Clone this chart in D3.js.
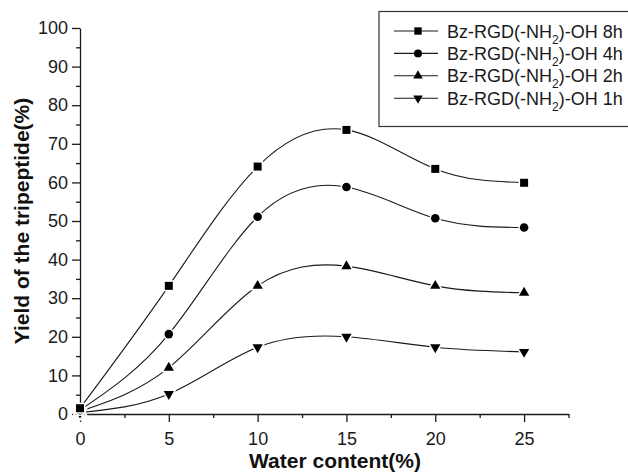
<!DOCTYPE html>
<html>
<head>
<meta charset="utf-8">
<script src="https://cdn.jsdelivr.net/npm/d3@7"></script>
<style>
  body { margin: 0; background: #fff; }
  svg { display: block; font-family: "Liberation Sans", Arial, sans-serif; }
  .tick text { font-size: 18px; fill: #1a1a1a; }
  .axis path, .axis line { stroke: #1a1a1a; stroke-width: 1.3; }
  .axis-title { font-size: 21px; font-weight: bold; fill: #111; }
</style>
</head>
<body>
<div id="chart"></div>
<script>
// water content (%)
const waterContent = [0, 5, 10, 15, 20, 25];

// yield of the tripeptide (%) per reaction time
const yield8h = [1.5, 33.2, 64.1, 73.6, 63.5, 59.9];
const yield4h = [1.0, 20.7, 51.1, 58.8, 50.7, 48.3];
const yield2h = [0.7, 12.0, 33.2, 38.3, 33.2, 31.4];
const yield1h = [0.4, 5.2, 17.3, 20.0, 17.3, 16.1];

const seriesNames = ['8h', '4h', '2h', '1h'];
const seriesValues = [yield8h, yield4h, yield2h, yield1h];

const xMajor = [0, 5, 10, 15, 20, 25];
const xMinor = [2.5, 7.5, 12.5, 17.5, 22.5, 27.5];
const yMajor = [0, 10, 20, 30, 40, 50, 60, 70, 80, 90, 100];
const yMinor = [5, 15, 25, 35, 45, 55, 65, 75, 85, 95];

const width = 628, height = 474;
const margin = { top: 28, right: 60, bottom: 60, left: 80 };

const svg = d3.select('#chart').append('svg')
    .attr('width', width)
    .attr('height', height);

const xScale = d3.scaleLinear().domain([0, 27.5]).range([margin.left, 568.5]);
const yScale = d3.scaleLinear().domain([0, 100]).range([414, margin.top]);

// marker shapes, one per series
const symbols = [
    { type: d3.symbolSquare, size: 64, rotate: 0 },
    { type: d3.symbolCircle, size: 58, rotate: 0 },
    { type: d3.symbolTriangle, size: 46, rotate: 0 },
    { type: d3.symbolTriangle, size: 46, rotate: 180 }
];

// axes: major ticks with labels, minor ticks without
svg.append('g')
    .attr('class', 'axis')
    .attr('transform', 'translate(0,414)')
    .call(d3.axisBottom(xScale).tickValues(xMajor).tickSize(8).tickSizeOuter(0).tickPadding(10).tickFormat(d3.format('d')));
svg.append('g')
    .attr('class', 'axis')
    .attr('transform', 'translate(0,414)')
    .call(d3.axisBottom(xScale).tickValues(xMinor).tickSize(4).tickSizeOuter(0).tickFormat(''))
    .call(g => g.select('.domain').remove());

svg.append('g')
    .attr('class', 'axis')
    .attr('transform', `translate(${margin.left},0)`)
    .call(d3.axisLeft(yScale).tickValues(yMajor).tickSize(8).tickSizeOuter(0).tickPadding(4).tickFormat(d3.format('d')));
svg.append('g')
    .attr('class', 'axis')
    .attr('transform', `translate(${margin.left},0)`)
    .call(d3.axisLeft(yScale).tickValues(yMinor).tickSize(4).tickSizeOuter(0).tickFormat(''))
    .call(g => g.select('.domain').remove());

// axis titles
svg.append('text')
    .attr('class', 'axis-title')
    .attr('x', 335)
    .attr('y', 468)
    .attr('text-anchor', 'middle')
    .text('Water content(%)');

svg.append('text')
    .attr('class', 'axis-title')
    .attr('transform', 'translate(29,221) rotate(-90)')
    .attr('text-anchor', 'middle')
    .text('Yield of the tripeptide(%)');

// curves
const line = d3.line()
    .x((d, i) => xScale(waterContent[i]))
    .y(d => yScale(d))
    .curve(d3.curveNatural);

svg.append('g')
    .selectAll('path')
    .data(seriesValues)
    .join('path')
    .attr('d', line)
    .attr('fill', 'none')
    .attr('stroke', '#1a1a1a')
    .attr('stroke-width', 1.1);

// markers, drawn from the last series to the first so squares sit on top
const markerGroups = svg.append('g')
    .selectAll('g')
    .data(seriesValues.map((vals, k) => ({ vals, k })).reverse())
    .join('g');

markerGroups.selectAll('path')
    .data(s => s.vals.map((v, i) => ({ x: waterContent[i], y: v, k: s.k })))
    .join('path')
    .attr('transform', d => `translate(${xScale(d.x)},${yScale(d.y)}) rotate(${symbols[d.k].rotate})`)
    .attr('d', d => d3.symbol().type(symbols[d.k].type).size(symbols[d.k].size)())
    .attr('fill', '#000')
    .attr('stroke', '#fff')
    .attr('stroke-width', 3)
    .attr('paint-order', 'stroke');

// legend
const legend = svg.append('g');
legend.append('rect')
    .attr('x', 379)
    .attr('y', 11.5)
    .attr('width', 280)
    .attr('height', 115)
    .attr('fill', '#fff')
    .attr('stroke', '#333')
    .attr('stroke-width', 1.2);

const rows = legend.selectAll('g.row')
    .data(seriesNames)
    .join('g')
    .attr('class', 'row')
    .attr('transform', (d, i) => `translate(0,${31 + i * 22.4})`);

rows.append('line')
    .attr('x1', 394).attr('x2', 438)
    .attr('stroke', '#1a1a1a')
    .attr('stroke-width', 1.1);

rows.append('path')
    .attr('transform', (d, i) => `translate(418,0) rotate(${symbols[i].rotate})`)
    .attr('d', (d, i) => d3.symbol().type(symbols[i].type).size(symbols[i].size * 0.85)())
    .attr('fill', '#000');

const label = rows.append('text')
    .attr('x', 447)
    .attr('y', 6.5)
    .attr('font-size', 18)
    .attr('fill', '#1a1a1a');
label.append('tspan').text('Bz-RGD(-NH');
label.append('tspan').attr('font-size', 12).attr('dy', 6).text('2');
label.append('tspan').attr('dy', -6).text(d => `)-OH ${d}`);
</script>
</body>
</html>
